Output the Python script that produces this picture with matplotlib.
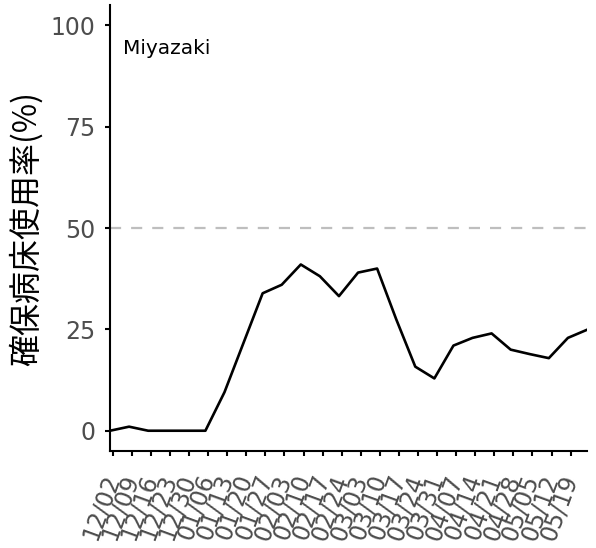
import numpy as np
import pandas as pd
import matplotlib
matplotlib.use("Agg")
import matplotlib.pyplot as plt
import matplotlib.dates as mdates

# weekly observations, Miyazaki
dates = pd.date_range("2020-12-01", periods=26, freq="7D")
usage = [0, 1, 0, 0, 0, 0, 9.5, 21.7, 33.9, 36.0, 41.0, 38.1, 33.2, 39.0, 40.0,
         27.5, 15.8, 12.9, 21.0, 22.9, 24.0, 20.0, 18.9, 17.9, 22.9, 24.9]
tick_dates = pd.date_range("2020-12-02", "2021-05-19", freq="7D")
tick_labels = [d.strftime("%m/%d") for d in tick_dates]
y_ticks = [0, 25, 50, 75, 100]
threshold = 50
prefecture = "Miyazaki"
ylabel = "確保病床使用率(%)"

fig = plt.figure(figsize=(5.96, 5.48), dpi=100)
ax = fig.add_axes([110 / 596, 1 - 451 / 548, 477 / 596, 446 / 548])

ax.axhline(threshold, color="#bebebe", lw=1.6, ls=(0, (5, 4.5)), zorder=1)
ax.plot(dates, usage, color="black", lw=1.9, zorder=2)

ax.set_xlim(dates[0], dates[-1])
ax.set_ylim(-5, 105)
ax.set_yticks(y_ticks)
ax.set_xticks(tick_dates)
ax.set_xticklabels(tick_labels, rotation=70, ha="right", va="center",
                   rotation_mode="anchor")

for s in ["top", "right"]:
    ax.spines[s].set_visible(False)
for s in ["left", "bottom"]:
    ax.spines[s].set_linewidth(1.5)
    ax.spines[s].set_color("black")

ax.tick_params(axis="both", length=3.6, width=1.5, color="black",
               labelcolor="#4d4d4d", labelsize=17)
ax.tick_params(axis="y", pad=7)
ax.tick_params(axis="x", pad=14)
for lab in ax.get_xticklabels() + ax.get_yticklabels():
    lab.set_family("DejaVu Sans")

ax.set_ylabel(ylabel, family=["Noto Sans CJK JP", "DejaVu Sans"], fontsize=23,
              color="black")
ax.yaxis.set_label_coords(-0.14, 0.5)

ax.text(0.027, 0.89, prefecture, transform=ax.transAxes, fontsize=14.5,
        family="DejaVu Sans", color="black", ha="left", va="baseline")

fig.savefig("out.png", dpi=100)
